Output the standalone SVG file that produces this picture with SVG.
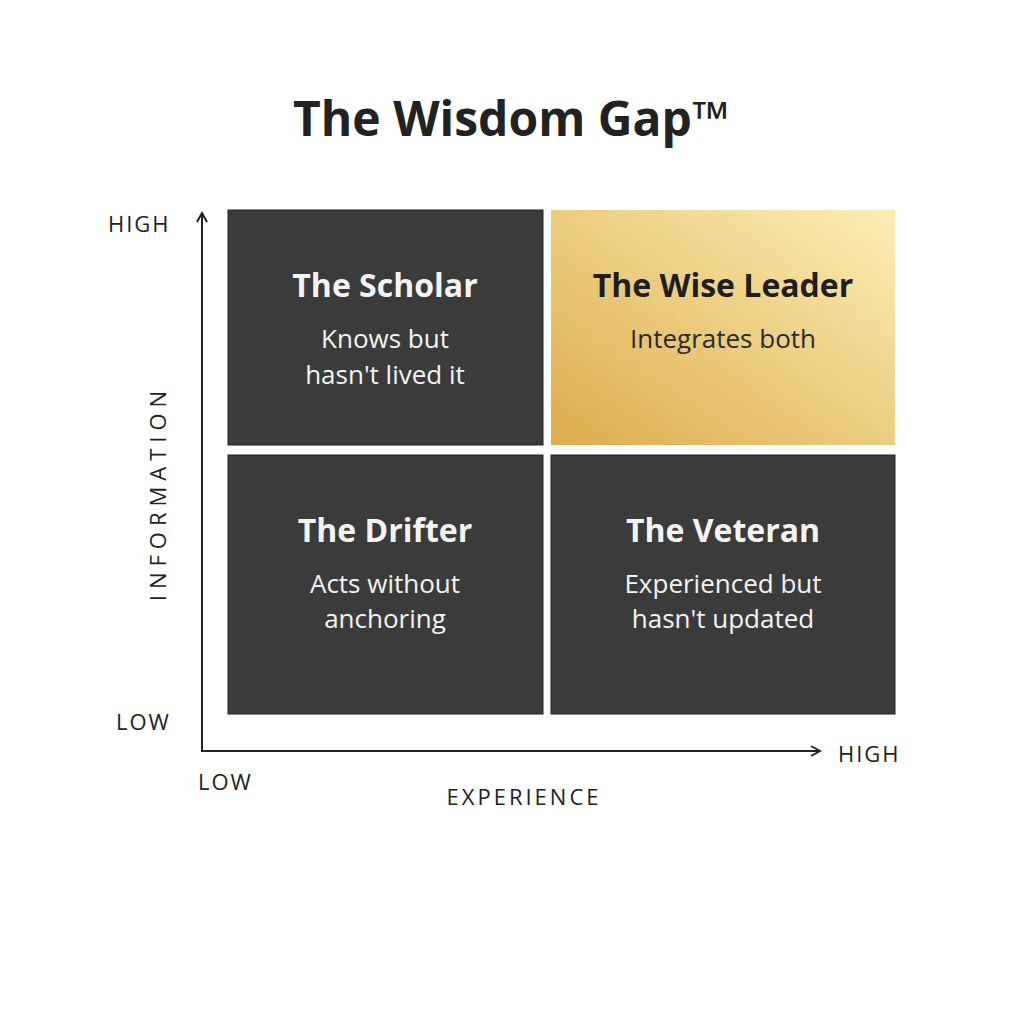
<svg xmlns="http://www.w3.org/2000/svg" width="1024" height="1024" viewBox="0 0 1024 1024">
<style>
.q{fill:#3b3b3c;stroke:#222;stroke-width:1}
.t{font-family:"Open Sans","Liberation Sans",sans-serif;font-weight:bold;font-size:32px;text-anchor:middle;fill:#f4f4f4}
.s{font-family:"Open Sans","Liberation Sans",sans-serif;font-size:26px;text-anchor:middle;fill:#f4f4f4}
.ax{font-family:"Open Sans","Liberation Sans",sans-serif;font-size:22px;fill:#222;letter-spacing:2px;font-weight:500}
</style>
<defs>
<linearGradient id="g" x1="1" y1="0" x2="0" y2="1"><stop offset="0" stop-color="#fdeeb5"/><stop offset="1" stop-color="#dcac4c"/></linearGradient>
<marker id="a" markerWidth="12" markerHeight="12" refX="10" refY="6" orient="auto" markerUnits="userSpaceOnUse"><path d="M1,1 L10,6 L1,11" fill="none" stroke="#222" stroke-width="2"/></marker>
</defs>
<rect width="1024" height="1024" fill="#fff"/>
<text x="511" y="136" font-family="Open Sans, Liberation Sans, sans-serif" font-weight="bold" font-size="48" text-anchor="middle" fill="#222">The Wisdom Gap™</text>
<g id="connectors" stroke="#222" stroke-width="2" fill="none">
<path d="M202,751 V213" marker-end="url(#a)"/>
<path d="M201,751 H820" marker-end="url(#a)"/>
</g>
<g id="scholar"><rect class="q" x="228" y="210" width="315" height="235"/><text class="t" x="385" y="297">The Scholar</text><text class="s" x="385" y="348">Knows but</text><text class="s" x="385" y="384">hasn't lived it</text></g>
<g id="wise"><rect x="551" y="210" width="344" height="235" fill="url(#g)"/><text class="t" x="723" y="297" style="fill:#1e1e1e">The Wise Leader</text><text class="s" x="723" y="348" style="fill:#2a2a2a">Integrates both</text></g>
<g id="drifter"><rect class="q" x="228" y="455" width="315" height="259"/><text class="t" x="385" y="542">The Drifter</text><text class="s" x="385" y="593">Acts without</text><text class="s" x="385" y="628">anchoring</text></g>
<g id="veteran"><rect class="q" x="551" y="455" width="344" height="259"/><text class="t" x="723" y="542">The Veteran</text><text class="s" x="723" y="593">Experienced but</text><text class="s" x="723" y="628">hasn't updated</text></g>
<g id="labels">
<text class="ax" x="108" y="232">HIGH</text>
<text class="ax" x="116" y="730">LOW</text>
<text class="ax" x="198" y="790">LOW</text>
<text class="ax" x="838" y="762">HIGH</text>
<text class="ax" x="524" y="805" text-anchor="middle" style="letter-spacing:3px">EXPERIENCE</text>
<text class="ax" x="166" y="493" text-anchor="middle" transform="rotate(-90 166 493)" style="letter-spacing:6px">INFORMATION</text>
</g>
</svg>
